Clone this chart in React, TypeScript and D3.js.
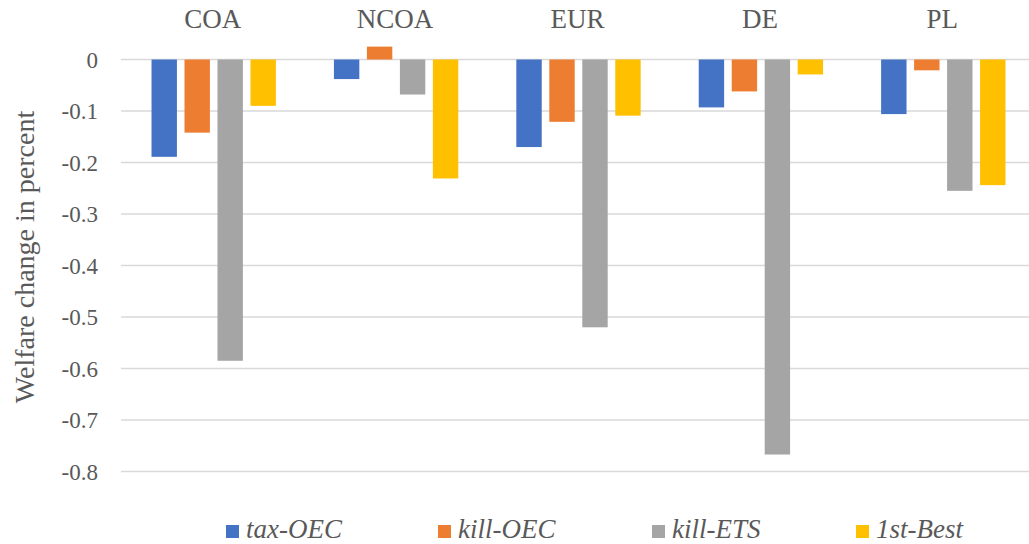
import * as d3 from 'd3';

// regions shown along the top
const regions = ['COA', 'NCOA', 'EUR', 'DE', 'PL'];
const seriesNames = ['tax-OEC', 'kill-OEC', 'kill-ETS', '1st-Best'];
const seriesColors = ['#4472C4', '#ED7D31', '#A5A5A5', '#FFC000'];

// welfare change in percent, one array per scenario (order follows regions)
const taxOEC = [-0.189, -0.038, -0.17, -0.093, -0.106];
const killOEC = [-0.142, 0.025, -0.121, -0.062, -0.021];
const killETS = [-0.585, -0.068, -0.52, -0.767, -0.255];
const firstBest = [-0.09, -0.231, -0.109, -0.029, -0.244];

const yTicks = [0, -0.1, -0.2, -0.3, -0.4, -0.5, -0.6, -0.7, -0.8];

const W = 1029;
const H = 544;
const plot = { left: 121, right: 1034.5, top: 59.5, bottom: 471.5 };
const textColor = '#595959';
const serif = "'Liberation Serif', 'Times New Roman', Times, serif";

// legend item left edges
const legendX = [226, 438, 652, 856];

// excel style: hyphen instead of unicode minus
const fmt = (t: number) => (t === 0 ? '0' : d3.format('.1f')(t).replace('\u2212', '-'));

export default function App() {
  const allSeries = [taxOEC, killOEC, killETS, firstBest];

  const x0 = d3.scaleBand<string>().domain(regions).range([plot.left + 1.5, plot.right]).padding(0);
  const x1 = d3
    .scaleBand<string>()
    .domain(seriesNames)
    .range([0, x0.bandwidth()])
    .paddingInner(0.23)
    .paddingOuter(0.88);
  const y = d3.scaleLinear().domain([-0.8, 0]).range([plot.bottom, plot.top]);

  return (
    <svg
      width={W}
      height={H}
      style={{ display: 'block', position: 'absolute', left: 0, top: 0, background: '#fff', fontFamily: serif }}
    >
      <rect width={W} height={H} fill="#fff" />

      {/* grid lines */}
      {yTicks.map((t) => (
        <line key={t} x1={plot.left} x2={W} y1={y(t)} y2={y(t)} stroke="#D9D9D9" strokeWidth={1.6} />
      ))}

      {/* tick labels */}
      {yTicks.map((t) => (
        <text key={'l' + t} x={98} y={y(t)} dy="0.35em" textAnchor="end" style={{ fontFamily: serif }} fontSize={23} fill={textColor}>
          {fmt(t)}
        </text>
      ))}

      {/* bars */}
      {regions.map((r, i) => (
        <g key={r} transform={`translate(${x0(r)},0)`}>
          {allSeries.map((s, j) => {
            const v = s[i];
            return (
              <rect
                key={seriesNames[j]}
                x={x1(seriesNames[j])}
                y={y(Math.max(0, v))}
                width={x1.bandwidth()}
                height={Math.abs(y(v) - y(0))}
                fill={seriesColors[j]}
              />
            );
          })}
        </g>
      ))}

      {/* region labels on top */}
      {regions.map((r) => (
        <text
          key={'c' + r}
          x={(x0(r) as number) + x0.bandwidth() / 2 - 1}
          y={28}
          textAnchor="middle"
          style={{ fontFamily: serif }}
          fontSize={27}
          fill={textColor}
        >
          {r}
        </text>
      ))}

      {/* axis title */}
      <text
        transform={`translate(34,${(plot.top + plot.bottom) / 2 - 8.5}) rotate(-90)`}
        textAnchor="middle"
        style={{ fontFamily: serif }}
        fontSize={28}
        fill={textColor}
      >
        Welfare change in percent
      </text>

      {/* legend */}
      {seriesNames.map((n, j) => (
        <g key={'lg' + n} transform={`translate(${legendX[j]},525)`}>
          <rect width={13} height={13} fill={seriesColors[j]} />
          <text x={20} y={13} style={{ fontFamily: serif, fontStyle: 'italic' }} fontSize={27} fill={textColor}>
            {n}
          </text>
        </g>
      ))}
    </svg>
  );
}
